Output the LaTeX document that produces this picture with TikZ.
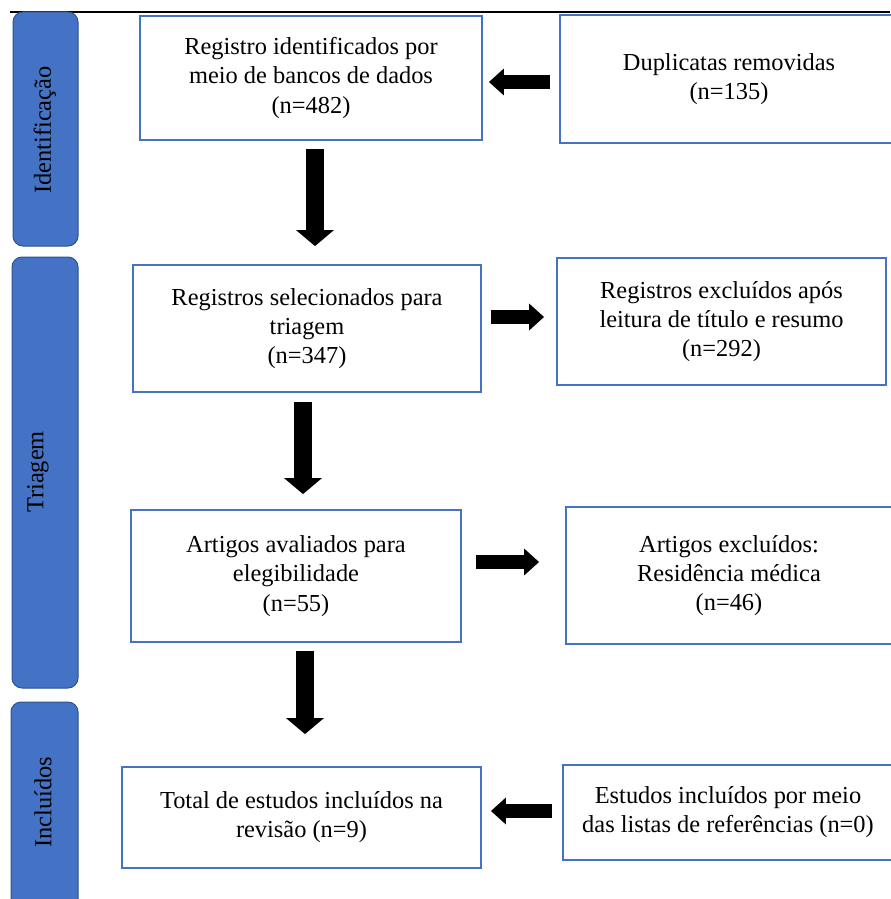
\documentclass[tikz,border=0pt]{standalone}
\usepackage{fontspec}
\setmainfont{Liberation Serif}
\usepackage{tikz}
\usetikzlibrary{calc}
\usetikzlibrary{arrows.meta,positioning}
\definecolor{barblue}{RGB}{68,114,196}
\definecolor{bardark}{RGB}{47,82,143}
\definecolor{boxblue}{RGB}{68,114,196}

\begin{document}
\begin{tikzpicture}[x=0.5pt,y=-0.5pt,
  every node/.style={font=\fontsize{12.2}{14.6}\selectfont},
  stage/.style={draw=bardark,fill=barblue,rounded corners=5pt,line width=0.5pt,inner sep=0pt},
  stagelabel/.style={rotate=90,inner sep=0pt},
  box/.style={draw=boxblue,line width=0.9pt,align=center,inner sep=0pt},
  downarrow/.style={line width=9pt,-{Triangle[length=8pt,width=18.5pt]}},
  sidearrow/.style={line width=7pt,-{Triangle[length=7.5pt,width=13pt]}}]
      \useasboundingbox (0,0) rectangle (890,899);
      \draw[line width=1pt] (10,12) -- (890,12);

      \node[stage,minimum width=32.5pt,minimum height=117pt] (iden) at (45.5,129) {};
      \node[stage,minimum width=33pt,minimum height=215.5pt] (tri) at (45,472.5) {};
      \node[stage,minimum width=33.5pt,minimum height=105pt] (inc) at (44.5,807) {};
      \node[stagelabel] (idenlabel) at (45,130) {Identificação};
      \node[stagelabel] (trilabel) at (38,472) {Triagem};
      \node[stagelabel] (inclabel) at (43,802) {Incluídos};

      \node[box,minimum width=171pt,minimum height=62pt] (reg) at (311,78)
        {Registro identificados por\\meio de bancos de dados\\(n=482)};
      \node[box,minimum width=169pt,minimum height=64pt] (dup) at (729,79)
        {Duplicatas removidas\\(n=135)};
      \node[box,minimum width=174pt,minimum height=63.5pt] (sel) at (307,328.5)
        {Registros selecionados para\\triagem\\(n=347)};
      \node[box,minimum width=164.5pt,minimum height=63.5pt] (exc) at (721.5,321.5)
        {Registros excluídos após\\leitura de título e resumo\\(n=292)};
      \node[box,minimum width=165pt,minimum height=66pt] (art) at (296,576)
        {Artigos avaliados para\\elegibilidade\\(n=55)};
      \node[box,minimum width=163pt,minimum height=68.5pt] (exctwo) at (729,575.5)
        {Artigos excluídos:\\Residência médica\\(n=46)};
      \node[box,minimum width=179.5pt,minimum height=50.5pt] (total) at (301.5,817.5)
        {Total de estudos incluídos na\\revisão (n=9)};
      \node[box,minimum width=165pt,minimum height=47.5pt] (est) at (728,812.5)
        {Estudos incluídos por meio\\das listas de referências (n=0)};

      \draw[downarrow] ($(reg.south)+(4,8)$) -- ($(reg.south |- sel.north)+(4,-18)$);
      \draw[downarrow] ($(sel.south)+(-4,9)$) -- ($(sel.south |- art.north)+(-4,-15)$);
      \draw[downarrow] ($(art.south)+(9,8)$) -- ($(art.south |- total.north)+(9,-32)$);
      \draw[sidearrow] ($(dup.west)+(-9,3)$) -- ($(reg.east |- dup.west)+(6,3)$);
      \draw[sidearrow] ($(sel.east)+(9,-11.5)$) -- ($(exc.west |- sel.east)+(-12,-11.5)$);
      \draw[sidearrow] ($(art.east)+(14,-14)$) -- ($(exctwo.west |- art.east)+(-26,-14)$);
      \draw[sidearrow] ($(est.west)+(-10,-1.5)$) -- ($(total.east |- est.west)+(9,-1.5)$);
    \end{tikzpicture}
\end{document}
